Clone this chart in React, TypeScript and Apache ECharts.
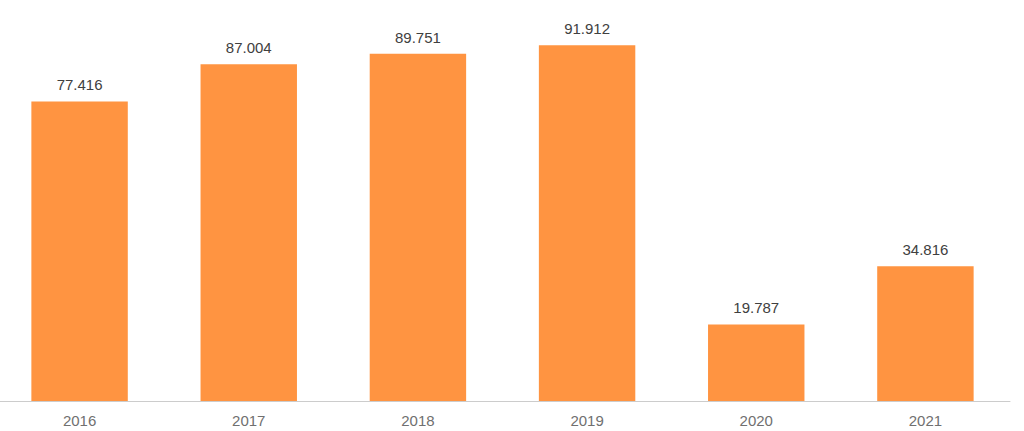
import React, { useEffect, useRef } from "react";
import * as echarts from "echarts";

const categories = ["2016", "2017", "2018", "2019", "2020", "2021"];
const values = [77.416, 87.004, 89.751, 91.912, 19.787, 34.816];

export default function App() {
  const ref = useRef<HTMLDivElement>(null);
  useEffect(() => {
    const chart = echarts.init(ref.current!, null, { renderer: "svg" });
    chart.setOption({
      animation: false,
      grid: { left: 0, right: 14, top: 14, bottom: 30, containLabel: false },
      xAxis: {
        type: "category",
        data: categories,
        axisLine: { lineStyle: { color: "#cccccc" } },
        axisTick: { show: false },
        axisLabel: { color: "#707070", fontSize: 15, margin: 12, fontFamily: "Liberation Sans, Arial, sans-serif" },
      },
      yAxis: { type: "value", min: 0, max: 100, show: false, splitLine: { show: false } },
      series: [
        {
          type: "bar",
          data: values,
          barWidth: "57%",
          itemStyle: { color: "#ff9441" },
          label: {
            show: true,
            position: "top",
            distance: 9,
            color: "#404040",
            fontSize: 15,
            fontFamily: "Liberation Sans, Arial, sans-serif",
            formatter: (p: any) => p.value.toFixed(3),
          },
        },
      ],
    });
    return () => chart.dispose();
  }, []);
  return <div ref={ref} style={{ position: "absolute", left: -5, top: 0, width: 1029, height: 431 }} />;
}
